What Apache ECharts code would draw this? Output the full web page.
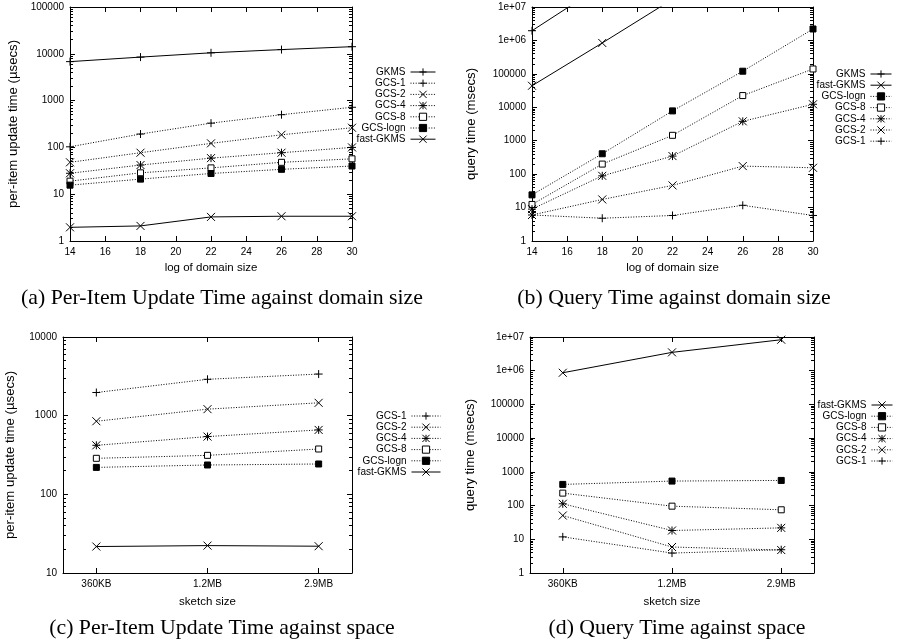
<!DOCTYPE html>
<html>
<head>
<meta charset="utf-8">
<script src="https://cdn.jsdelivr.net/npm/echarts@6/dist/echarts.min.js"></script>
<style>html,body{margin:0;padding:0;background:#fff}#c{width:903px;height:644px}</style>
</head>
<body>
<div id="c"></div>
<script>
// ---------- data ----------
const domainSizes = [14, 18, 22, 26, 30];
const sketchSizes = ['360KB', '1.2MB', '2.9MB'];

// (a) per-item update time vs domain size (usecs)
const updDomGKMS     = [6800, 8500, 10500, 12300, 14200];
const updDomGCS1     = [103, 193, 330, 500, 720];
const updDomGCS2     = [48, 77, 122, 186, 263];
const updDomGCS4     = [28, 42, 59, 77, 100];
const updDomGCS8     = [19, 28.6, 36.5, 48, 57];
const updDomGCSlogn  = [15.6, 21, 27.7, 34, 40];
const updDomFastGKMS = [1.96, 2.1, 3.27, 3.38, 3.38];

// (b) query time vs domain size (msecs)
const qryDomGKMS     = [1.95e6, 4.5e7, null, null, null];
const qryDomFastGKMS = [4.4e4, 8.4e5, 1.7e7, null, null];
const qryDomGCSlogn  = [24, 407, 7800, 1.2e5, 2.2e6];
const qryDomGCS8     = [12.4, 200, 1450, 2.24e4, 1.4e5];
const qryDomGCS4     = [9, 89, 347, 3800, 12300];
const qryDomGCS2     = [6, 17.5, 46, 174, 155];
const qryDomGCS1     = [6, 4.8, 5.8, 11.7, 5.8];

// (c) per-item update time vs sketch size (usecs)
const updSpGCS1     = [1970, 2900, 3380];
const updSpGCS2     = [850, 1210, 1456];
const updSpGCS4     = [420, 542, 659];
const updSpGCS8     = [287, 313, 377];
const updSpGCSlogn  = [220, 236, 243];
const updSpFastGKMS = [21.7, 22.3, 21.9];

// (d) query time vs sketch size (msecs)
const qrySpFastGKMS = [8.7e5, 3.5e6, 8.3e6];
const qrySpGCSlogn  = [424, 533, 557];
const qrySpGCS8     = [234, 96, 75];
const qrySpGCS4     = [113, 18.2, 21.8];
const qrySpGCS2     = [50.7, 5.9, 4.8];
const qrySpGCS1     = [11.8, 3.9, 4.9];

// ---------- styling helpers ----------
const FONT = 'Liberation Sans';
const SYM = {
  plus: 'path://M0,5L10,5M5,0L5,10',
  cross: 'path://M0,0L10,10M10,0L0,10',
  star: 'path://M0,0L10,10M10,0L0,10M0,5L10,5M5,0L5,10',
  open: 'rect',
  fill: 'rect'
};
const STYLE = {
  'GKMS':      {sym: 'plus',  solid: true},
  'fast-GKMS': {sym: 'cross', solid: true},
  'GCS-1':     {sym: 'plus',  solid: false},
  'GCS-2':     {sym: 'cross', solid: false},
  'GCS-4':     {sym: 'star',  solid: false},
  'GCS-8':     {sym: 'open',  solid: false},
  'GCS-logn':  {sym: 'fill',  solid: false}
};

function mkSeries(name, idx, data) {
  const st = STYLE[name];
  const isSq = st.sym === 'open' || st.sym === 'fill';
  return {
    type: 'line', name: name, xAxisIndex: idx, yAxisIndex: idx,
    data: data, symbol: SYM[st.sym], symbolSize: isSq ? 6 : 8,
    showSymbol: true, showAllSymbol: true, clip: true, connectNulls: false,
    lineStyle: {color: '#000', width: 1, type: st.solid ? 'solid' : [1, 1.6]},
    itemStyle: {color: st.sym === 'open' ? '#fff' : '#000', borderColor: '#000', borderWidth: 1},
    emphasis: {disabled: true}, animation: false
  };
}

const domPairs = arr => domainSizes.map((d, i) => [d, arr[i]]);
const spPairs = arr => sketchSizes.map((s, i) => [i, arr[i]]);

const logFmt = v => {
  const e = Math.round(Math.log10(v));
  return e >= 6 ? '1e+0' + e : String(Math.round(Math.pow(10, e)));
};

// minor ticks at 2..9 x 10^k, expressed in log10 space for a linear helper axis
function minorLogVals(min, max) {
  const out = [];
  for (let d = min; d < max; d *= 10) {
    for (let m = 2; m <= 9; m++) out.push(Math.log10(m * d));
  }
  return out;
}

function xAx(grid, kind, top, name, nameGap) {
  const base = {
    gridIndex: grid, type: 'value', position: top ? 'top' : 'bottom',
    axisLine: {show: true, onZero: false, lineStyle: {color: '#000', width: 1}},
    axisTick: {show: true, inside: true, length: 5, lineStyle: {color: '#000'}},
    axisLabel: {show: !top, color: '#000', fontFamily: FONT, fontSize: 10, margin: 6},
    splitLine: {show: false}
  };
  if (kind === 'dom') {
    base.min = 14; base.max = 30; base.interval = 2;
    base.axisLabel.formatter = v => String(v);
  } else {
    base.min = -0.3; base.max = 2.3;
    base.axisTick.customValues = [0, 1, 2];
    base.axisLabel.customValues = [0, 1, 2];
    base.axisLabel.formatter = v => sketchSizes[Math.round(v)];
  }
  if (!top) {
    base.name = name; base.nameLocation = 'middle'; base.nameGap = nameGap;
    base.nameTextStyle = {color: '#000', fontFamily: FONT, fontSize: 11.5};
  }
  return base;
}

function yAx(grid, min, max, right, name, nameGap) {
  const base = {
    gridIndex: grid, type: 'log', logBase: 10, min: min, max: max,
    splitNumber: Math.round(Math.log10(max / min)),
    position: right ? 'right' : 'left',
    axisLine: {show: true, onZero: false, lineStyle: {color: '#000', width: 1}},
    axisTick: {show: true, inside: true, length: 5, lineStyle: {color: '#000'}},
    axisLabel: {show: !right, color: '#000', fontFamily: FONT, fontSize: 10, margin: 6,
                formatter: logFmt, showMinLabel: true, showMaxLabel: true},
    splitLine: {show: false}
  };
  if (!right) {
    base.name = name; base.nameLocation = 'middle'; base.nameGap = nameGap;
    base.nameTextStyle = {color: '#000', fontFamily: FONT, fontSize: 13.2};
  }
  return base;
}

function yMinor(grid, min, max, right) {
  return {
    gridIndex: grid, type: 'value', min: Math.log10(min), max: Math.log10(max),
    position: right ? 'right' : 'left',
    axisLine: {show: false, onZero: false},
    axisTick: {show: true, inside: true, length: 3, lineStyle: {color: '#000'},
               customValues: minorLogVals(min, max)},
    axisLabel: {show: false},
    splitLine: {show: false}
  };
}

function legend(names, rightEdge, top, itemWidth) {
  return {
    data: names, orient: 'vertical', align: 'right',
    right: 903 - rightEdge, top: top, padding: 0,
    itemWidth: itemWidth, itemHeight: 9, itemGap: 1.2,
    selectedMode: false,
    textStyle: {color: '#000', fontFamily: FONT, fontSize: 10, lineHeight: 10},
    lineStyle: {width: 1},
    itemStyle: {borderWidth: 1}
  };
}

const captions = [
  {text: '(a) Per-Item Update Time against domain size', x: 222, y: 298},
  {text: '(b) Query Time against domain size', x: 674, y: 298},
  {text: '(c) Per-Item Update Time against space', x: 222, y: 628},
  {text: '(d) Query Time against space', x: 677, y: 628}
];

const yRanges = [[1, 1e5], [1, 1e7], [10, 1e4], [1, 1e7]];

const option = {
  backgroundColor: '#fff',
  animation: false,
  grid: [
    {left: 70, top: 7, width: 282, height: 234},
    {left: 532, top: 7, width: 281, height: 234},
    {left: 63, top: 337, width: 289, height: 236},
    {left: 530, top: 337, width: 284, height: 236}
  ],
  xAxis: [
    xAx(0, 'dom', false, 'log of domain size', 21),
    xAx(1, 'dom', false, 'log of domain size', 21),
    xAx(2, 'sp', false, 'sketch size', 23),
    xAx(3, 'sp', false, 'sketch size', 23),
    xAx(0, 'dom', true), xAx(1, 'dom', true), xAx(2, 'sp', true), xAx(3, 'sp', true)
  ],
  yAxis: [
    yAx(0, 1, 1e5, false, 'per-item update time (µsecs)', 50),
    yAx(1, 1, 1e7, false, 'query time (msecs)', 54),
    yAx(2, 10, 1e4, false, 'per-item update time (µsecs)', 46.5),
    yAx(3, 1, 1e7, false, 'query time (msecs)', 53),
    yAx(0, 1, 1e5, true), yAx(1, 1, 1e7, true), yAx(2, 10, 1e4, true), yAx(3, 1, 1e7, true)
  ].concat(yRanges.map((r, g) => yMinor(g, r[0], r[1], false)))
   .concat(yRanges.map((r, g) => yMinor(g, r[0], r[1], true))),
  legend: [
    legend(['GKMS', 'GCS-1', 'GCS-2', 'GCS-4', 'GCS-8', 'GCS-logn', 'fast-GKMS'], 436, 67, 25),
    legend(['GKMS', 'fast-GKMS', 'GCS-logn', 'GCS-8', 'GCS-4', 'GCS-2', 'GCS-1'], 892, 69, 21),
    legend(['GCS-1', 'GCS-2', 'GCS-4', 'GCS-8', 'GCS-logn', 'fast-GKMS'], 441, 411, 29),
    legend(['fast-GKMS', 'GCS-logn', 'GCS-8', 'GCS-4', 'GCS-2', 'GCS-1'], 893, 400, 21)
  ],
  series: [
    mkSeries('GKMS', 0, domPairs(updDomGKMS)),
    mkSeries('GCS-1', 0, domPairs(updDomGCS1)),
    mkSeries('GCS-2', 0, domPairs(updDomGCS2)),
    mkSeries('GCS-4', 0, domPairs(updDomGCS4)),
    mkSeries('GCS-8', 0, domPairs(updDomGCS8)),
    mkSeries('GCS-logn', 0, domPairs(updDomGCSlogn)),
    mkSeries('fast-GKMS', 0, domPairs(updDomFastGKMS)),

    mkSeries('GKMS', 1, domPairs(qryDomGKMS)),
    mkSeries('fast-GKMS', 1, domPairs(qryDomFastGKMS)),
    mkSeries('GCS-logn', 1, domPairs(qryDomGCSlogn)),
    mkSeries('GCS-8', 1, domPairs(qryDomGCS8)),
    mkSeries('GCS-4', 1, domPairs(qryDomGCS4)),
    mkSeries('GCS-2', 1, domPairs(qryDomGCS2)),
    mkSeries('GCS-1', 1, domPairs(qryDomGCS1)),

    mkSeries('GCS-1', 2, spPairs(updSpGCS1)),
    mkSeries('GCS-2', 2, spPairs(updSpGCS2)),
    mkSeries('GCS-4', 2, spPairs(updSpGCS4)),
    mkSeries('GCS-8', 2, spPairs(updSpGCS8)),
    mkSeries('GCS-logn', 2, spPairs(updSpGCSlogn)),
    mkSeries('fast-GKMS', 2, spPairs(updSpFastGKMS)),

    mkSeries('fast-GKMS', 3, spPairs(qrySpFastGKMS)),
    mkSeries('GCS-logn', 3, spPairs(qrySpGCSlogn)),
    mkSeries('GCS-8', 3, spPairs(qrySpGCS8)),
    mkSeries('GCS-4', 3, spPairs(qrySpGCS4)),
    mkSeries('GCS-2', 3, spPairs(qrySpGCS2)),
    mkSeries('GCS-1', 3, spPairs(qrySpGCS1))
  ],
  graphic: captions.map(c => ({
    type: 'text', x: c.x, y: c.y, silent: true,
    style: {text: c.text, fill: '#000', font: '21.8px "Liberation Serif"',
            align: 'center', verticalAlign: 'middle'}
  }))
};

const chart = echarts.init(document.getElementById('c'), null, {renderer: 'canvas'});
chart.setOption(option);
</script>
</body>
</html>
